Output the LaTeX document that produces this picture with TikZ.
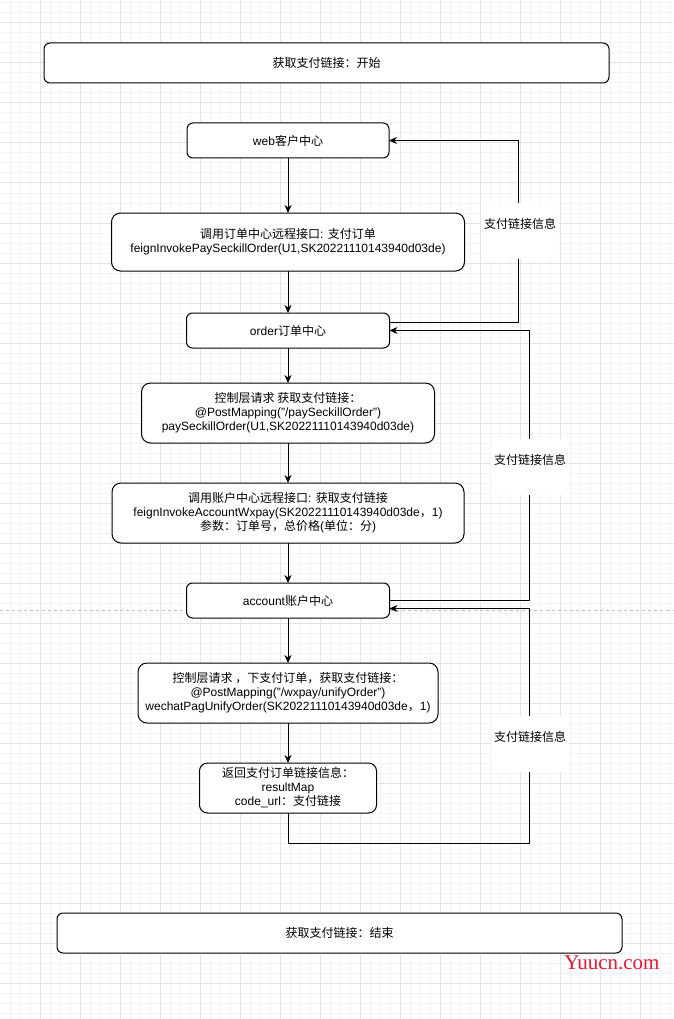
\documentclass[tikz,border=0pt]{standalone}
\usepackage{fontspec}
\setmainfont{Liberation Sans}
\newfontfamily\cjk{Noto Sans CJK SC}
\newfontfamily\wmfont{Liberation Serif}
\usetikzlibrary{arrows.meta}
\usetikzlibrary{positioning}
\definecolor{gridmajor}{RGB}{228,228,228}
\definecolor{gridminor}{RGB}{244,244,244}
\definecolor{pagebreak}{RGB}{190,190,190}
\definecolor{markred}{RGB}{236,22,52}
\newcommand{\zh}[1]{{\cjk #1}}
\tikzstyle{block} = [rectangle, draw=black, fill=white, line width=1pt,
 rounded corners=6pt, inner sep=0pt, outer sep=0pt, align=center,
 font=\fontsize{12}{14}\selectfont]
\tikzstyle{flow} = [draw=black, line width=1pt, -{Stealth[length=8pt,width=7pt]}]
\tikzstyle{linklabel} = [fill=white, inner sep=0pt, minimum width=78pt,
 minimum height=56pt, text height=9pt, text depth=14pt,
 font=\fontsize{12}{14}\selectfont]

\begin{document}
\begin{tikzpicture}[x=1pt, y=-1pt]

\fill[white] (0,0) rectangle (673,1019);
\useasboundingbox (0,0) rectangle (673,1019);
\foreach \gx in {10,20,...,670} \draw[gridminor, line width=1pt] (\gx,0) -- (\gx,1019);
\foreach \gy in {3,13,...,1013} \draw[gridminor, line width=1pt] (0,\gy) -- (673,\gy);
\foreach \gx in {40,80,...,640} \draw[gridmajor, line width=1pt] (\gx,0) -- (\gx,1019);
\foreach \gy in {23,63,...,1003} \draw[gridmajor, line width=1pt] (0,\gy) -- (673,\gy);
\draw[pagebreak, line width=0.8pt, dash pattern=on 3pt off 3pt] (0,610) -- (673,610);

\node[block, minimum width=565pt, minimum height=40pt] (start) at (326.5,63)
 {\zh{获取支付链接：开始}};

\node[block, minimum width=202pt, minimum height=35pt] (web) at (288,140.5)
 {web\zh{客户中心}};

\node[block, rounded corners=9pt, minimum width=353pt, minimum height=58pt,
 below = 55pt of web] (callorder)
 {\zh{调用订单中心远程接口}: \zh{支付订单}\\feignInvokePaySeckillOrder(U1,SK20221110143940d03de)};

\node[block, minimum width=203pt, minimum height=35pt, below = 42pt of callorder] (order)
 {order\zh{订单中心}};

\node[block, rounded corners=9pt, minimum width=293pt, minimum height=60pt,
 below = 35pt of order] (payctrl)
 {\zh{控制层请求 获取支付链接：}\\@PostMapping("/paySeckillOrder")\\paySeckillOrder(U1,SK20221110143940d03de)};

\node[block, rounded corners=9pt, minimum width=352pt, minimum height=60pt,
 below = 40pt of payctrl] (callacct)
 {\zh{调用账户中心远程接口}: \zh{获取支付链接}\\feignInvokeAccountWxpay(SK20221110143940d03de\zh{，}1)\\\zh{参数：订单号，总价格}(\zh{单位：分})};

\node[block, minimum width=203pt, minimum height=35pt, below = 40pt of callacct] (account)
 {account\zh{账户中心}};

\node[block, rounded corners=9pt, minimum width=300pt, minimum height=60pt,
 below = 45pt of account] (wxctrl)
 {\zh{控制层请求 ，下支付订单，获取支付链接：}\\@PostMapping("/wxpay/unifyOrder")\\wechatPagUnifyOrder(SK20221110143940d03de\zh{，}1)};

\node[block, rounded corners=8pt, minimum width=177pt, minimum height=50pt,
 below = 40pt of wxctrl] (result)
 {\zh{返回支付订单链接信息：}\\resultMap\\code\_url\zh{：支付链接}};

\node[block, minimum width=565pt, minimum height=40pt] (finish) at (339.5,933)
 {\zh{获取支付链接：结束}};

\draw[flow] (web) -- (callorder);
\draw[flow] (callorder) -- (order);
\draw[flow] (order) -- (payctrl);
\draw[flow] (payctrl) -- (callacct);
\draw[flow] (callacct) -- (account);
\draw[flow] (account) -- (wxctrl);
\draw[flow] (wxctrl) -- (result);

\draw[flow] ([yshift=8pt]order.east) -- ++(128.5,0) |- (web.east);
\draw[flow] (account.east) -- ++(139.5,0) |- (order.east);
\draw[flow] (result.south) -- ++(0,30) -- ++(241,0) |- ([yshift=-8pt]account.east);

\node[linklabel] (info1) at (520,231) {\zh{支付链接信息}};
\node[linklabel] (info2) at (530,467) {\zh{支付链接信息}};
\node[linklabel] (info3) at (530,744) {\zh{支付链接信息}};

\node[text=markred, font=\wmfont\fontsize{21}{21}\selectfont] (mark) at (612,963) {Yuucn.com};

\end{tikzpicture}
\end{document}
